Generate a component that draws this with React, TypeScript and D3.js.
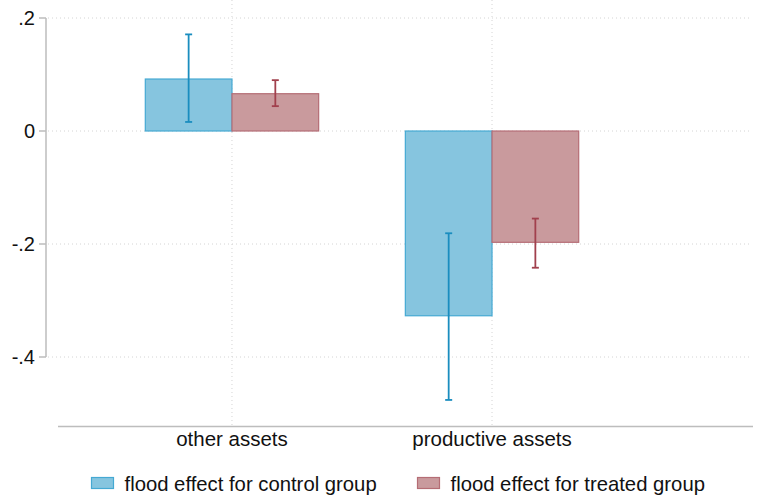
import React, { useEffect, useRef } from "react";
import * as d3 from "d3";

const categories = ["other assets", "productive assets"];
const groups = ["flood effect for control group", "flood effect for treated group"];
const controlValues = [0.092, -0.327];
const controlLow = [0.016, -0.476];
const controlHigh = [0.171, -0.181];
const treatedValues = [0.066, -0.197];
const treatedLow = [0.044, -0.242];
const treatedHigh = [0.09, -0.155];
const yTicks = [0.2, 0, -0.2, -0.4];
const yTickLabels = [".2", "0", "-.2", "-.4"];

const fills = ["#86c5df", "#c99a9d"];
const strokes = ["#45a9d3", "#b56d75"];
const errColors = ["#1a8dbf", "#a1404d"];

export default function App() {
  const ref = useRef<SVGSVGElement>(null);

  useEffect(() => {
    const width = 761,
      height = 495;
    const svg = d3.select(ref.current);
    svg.selectAll("*").remove();
    svg.attr("width", width).attr("height", height);

    const font = "'Liberation Sans', Arial, Helvetica, sans-serif";

    const y = d3.scaleLinear().domain([-0.4, 0.2]).range([357, 18]);
    const x = d3
      .scaleBand()
      .domain(categories)
      .range([145.3, 578.7])
      .paddingInner(1 / 3)
      .paddingOuter(0);
    const xg = d3.scaleBand().domain(groups).range([0, x.bandwidth()]);

    const plotLeft = 48,
      plotRight = 752,
      plotBottom = 426.5;

    // grid
    svg
      .append("g")
      .selectAll("line")
      .data(yTicks)
      .enter()
      .append("line")
      .attr("x1", plotLeft)
      .attr("x2", plotRight)
      .attr("y1", (d) => y(d))
      .attr("y2", (d) => y(d))
      .attr("stroke", "#d4d4d4")
      .attr("stroke-width", 1)
      .attr("stroke-dasharray", "1,3");

    svg
      .append("g")
      .selectAll("line")
      .data(categories)
      .enter()
      .append("line")
      .attr("x1", (d) => x(d)! + x.bandwidth() / 2)
      .attr("x2", (d) => x(d)! + x.bandwidth() / 2)
      .attr("y1", 0)
      .attr("y2", plotBottom)
      .attr("stroke", "#d4d4d4")
      .attr("stroke-width", 1)
      .attr("stroke-dasharray", "1,3");

    // y axis
    svg
      .append("line")
      .attr("x1", 46)
      .attr("x2", 46)
      .attr("y1", y(0.2))
      .attr("y2", y(-0.4))
      .attr("stroke", "#bdbdbd")
      .attr("stroke-width", 1.5);
    const yt = svg.append("g").selectAll("g").data(yTicks).enter().append("g");
    yt.append("line")
      .attr("x1", 39)
      .attr("x2", 46)
      .attr("y1", (d) => y(d))
      .attr("y2", (d) => y(d))
      .attr("stroke", "#bdbdbd")
      .attr("stroke-width", 1.5);
    yt.append("text")
      .attr("x", 35)
      .attr("y", (d) => y(d))
      .attr("dy", "0.36em")
      .attr("text-anchor", "end")
      .attr("font-family", font)
      .attr("font-size", 20)
      .attr("fill", "#111")
      .text((d, i) => yTickLabels[i]);

    // x axis
    svg
      .append("line")
      .attr("x1", 58)
      .attr("x2", 753)
      .attr("y1", plotBottom)
      .attr("y2", plotBottom)
      .attr("stroke", "#bdbdbd")
      .attr("stroke-width", 1.5);
    svg
      .append("g")
      .selectAll("text")
      .data(categories)
      .enter()
      .append("text")
      .attr("x", (d) => x(d)! + x.bandwidth() / 2)
      .attr("y", 445.5)
      .attr("text-anchor", "middle")
      .attr("font-family", font)
      .attr("font-size", 20.5)
      .attr("fill", "#111")
      .text((d) => d);

    const series = [
      { vals: controlValues, lo: controlLow, hi: controlHigh },
      { vals: treatedValues, lo: treatedLow, hi: treatedHigh },
    ];

    series.forEach((s, si) => {
      const g = svg.append("g");
      g.selectAll("rect")
        .data(categories)
        .enter()
        .append("rect")
        .attr("x", (d) => x(d)! + xg(groups[si])!)
        .attr("width", xg.bandwidth())
        .attr("y", (d, i) => Math.min(y(s.vals[i]), y(0)))
        .attr("height", (d, i) => Math.abs(y(s.vals[i]) - y(0)))
        .attr("fill", fills[si])
        .attr("stroke", strokes[si])
        .attr("stroke-width", 1.2);

      const cx = (d: string) => x(d)! + xg(groups[si])! + xg.bandwidth() / 2;
      const e = g.selectAll("g.err").data(categories).enter().append("g");
      e.append("line")
        .attr("x1", cx)
        .attr("x2", cx)
        .attr("y1", (d, i) => y(s.lo[i]))
        .attr("y2", (d, i) => y(s.hi[i]))
        .attr("stroke", errColors[si])
        .attr("stroke-width", 1.8);
      [s.lo, s.hi].forEach((arr) => {
        e.append("line")
          .attr("x1", (d) => cx(d) - 3.5)
          .attr("x2", (d) => cx(d) + 3.5)
          .attr("y1", (d, i) => y(arr[i]))
          .attr("y2", (d, i) => y(arr[i]))
          .attr("stroke", errColors[si])
          .attr("stroke-width", 1.8);
      });
    });

    // legend
    const legendX = [91.5, 417.5];
    const lg = svg.append("g").selectAll("g").data(groups).enter().append("g");
    lg.append("rect")
      .attr("x", (d, i) => legendX[i])
      .attr("y", 477.5)
      .attr("width", 22)
      .attr("height", 11)
      .attr("fill", (d, i) => fills[i])
      .attr("stroke", (d, i) => strokes[i])
      .attr("stroke-width", 1.2);
    lg.append("text")
      .attr("x", (d, i) => legendX[i] + 33)
      .attr("y", 490.5)
      .attr("font-family", font)
      .attr("font-size", 20.3)
      .attr("fill", "#111")
      .text((d) => d);
  }, []);

  return (
    <svg
      ref={ref}
      style={{ position: "absolute", left: 0, top: 0, display: "block", background: "#fff" }}
    />
  );
}
